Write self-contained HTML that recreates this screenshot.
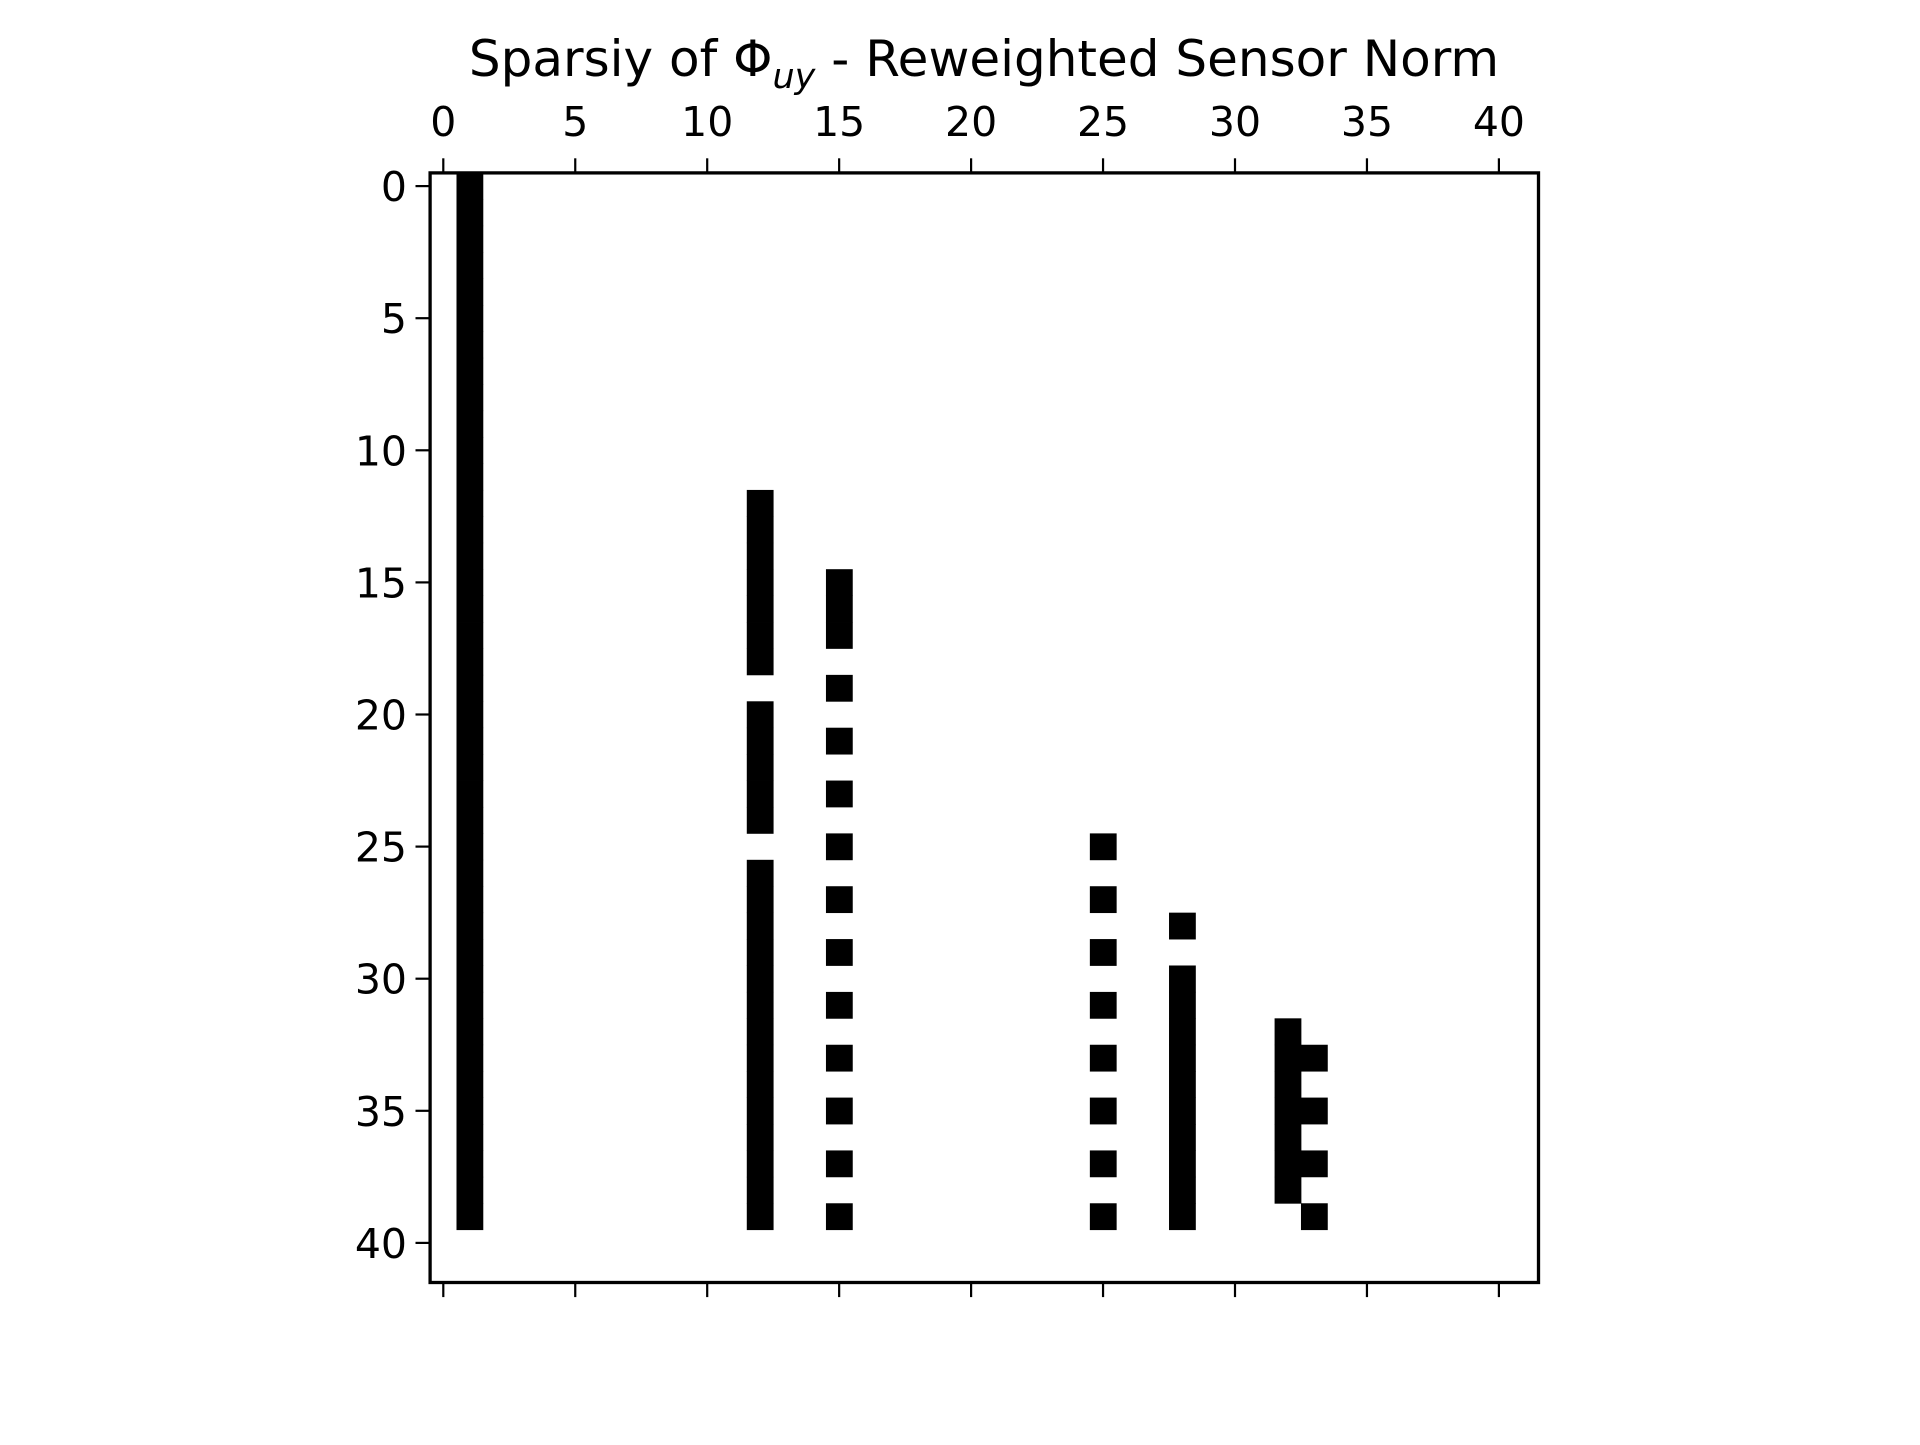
<!DOCTYPE html>
<html><head><meta charset="utf-8"><style>
body{margin:0;background:#fff}
svg text{font-family:"DejaVu Sans","Liberation Sans",sans-serif;fill:#000}
</style></head><body>
<svg width="1920" height="1440" xmlns="http://www.w3.org/2000/svg">
<g id="cells"></g>
<rect x="430.1" y="172.9" width="1108.4" height="1109.6" fill="none" stroke="#000" stroke-width="3.3"/>
<g id="ticks"></g>
<text x="984" y="76" font-size="50" text-anchor="middle">Sparsiy of Φ<tspan font-style="italic" font-size="35" dy="12">uy</tspan><tspan dy="-12"> - Reweighted Sensor Norm</tspan></text>
</svg>
<script>
const columns = [1, 12, 15, 25, 28, 32, 33];
const rowSets = [
  [0,1,2,3,4,5,6,7,8,9,10,11,12,13,14,15,16,17,18,19,20,21,22,23,24,25,26,27,28,29,30,31,32,33,34,35,36,37,38,39],
  [12,13,14,15,16,17,18,20,21,22,23,24,26,27,28,29,30,31,32,33,34,35,36,37,38,39],
  [15,16,17,19,21,23,25,27,29,31,33,35,37,39],
  [25,27,29,31,33,35,37,39],
  [28,30,31,32,33,34,35,36,37,38,39],
  [32,33,34,35,36,37,38],
  [33,35,37,39]
];
const tickValues = [0,5,10,15,20,25,30,35,40];
const tickLabels = ["0","5","10","15","20","25","30","35","40"];
const NS='http://www.w3.org/2000/svg';
function xs(v){return 443.3+v*26.39;}
function ys(v){return 186.1+v*26.42;}
const cg=document.getElementById('cells');
columns.forEach((c,i)=>{
  rowSets[i].forEach(r=>{
    const el=document.createElementNS(NS,'rect');
    el.setAttribute('x',xs(c-0.5));el.setAttribute('y',ys(r-0.5));
    el.setAttribute('width',xs(c+0.5)-xs(c-0.5)+0.4);el.setAttribute('height',ys(r+0.5)-ys(r-0.5)+0.4);
    el.setAttribute('fill','#000');
    
    
    cg.appendChild(el);
  });
});
const tg=document.getElementById('ticks');
function line(x1,y1,x2,y2,n){const l=document.createElementNS(NS,'line');l.setAttribute('x1',x1);l.setAttribute('y1',y1);l.setAttribute('x2',x2);l.setAttribute('y2',y2);l.setAttribute('stroke','#000');l.setAttribute('stroke-width','2.2');


tg.appendChild(l);}
function text(x,y,s,anchor,n){const t=document.createElementNS(NS,'text');t.setAttribute('x',x);t.setAttribute('y',y);t.setAttribute('font-size','41');t.setAttribute('text-anchor',anchor);t.textContent=s;


tg.appendChild(t);}
tickValues.forEach((v,i)=>{
  const x=xs(v),y=ys(v);
  line(x,172.9,x,158.3,'x-tick-top');
  line(x,1282.5,x,1297.1,'x-tick-bottom');
  line(430.1,y,415.5,y,'y-tick');
  text(x,136,tickLabels[i],'middle','x-tick-label');
  text(407,y+15,tickLabels[i],'end','y-tick-label');
});
</script>
</body></html>
